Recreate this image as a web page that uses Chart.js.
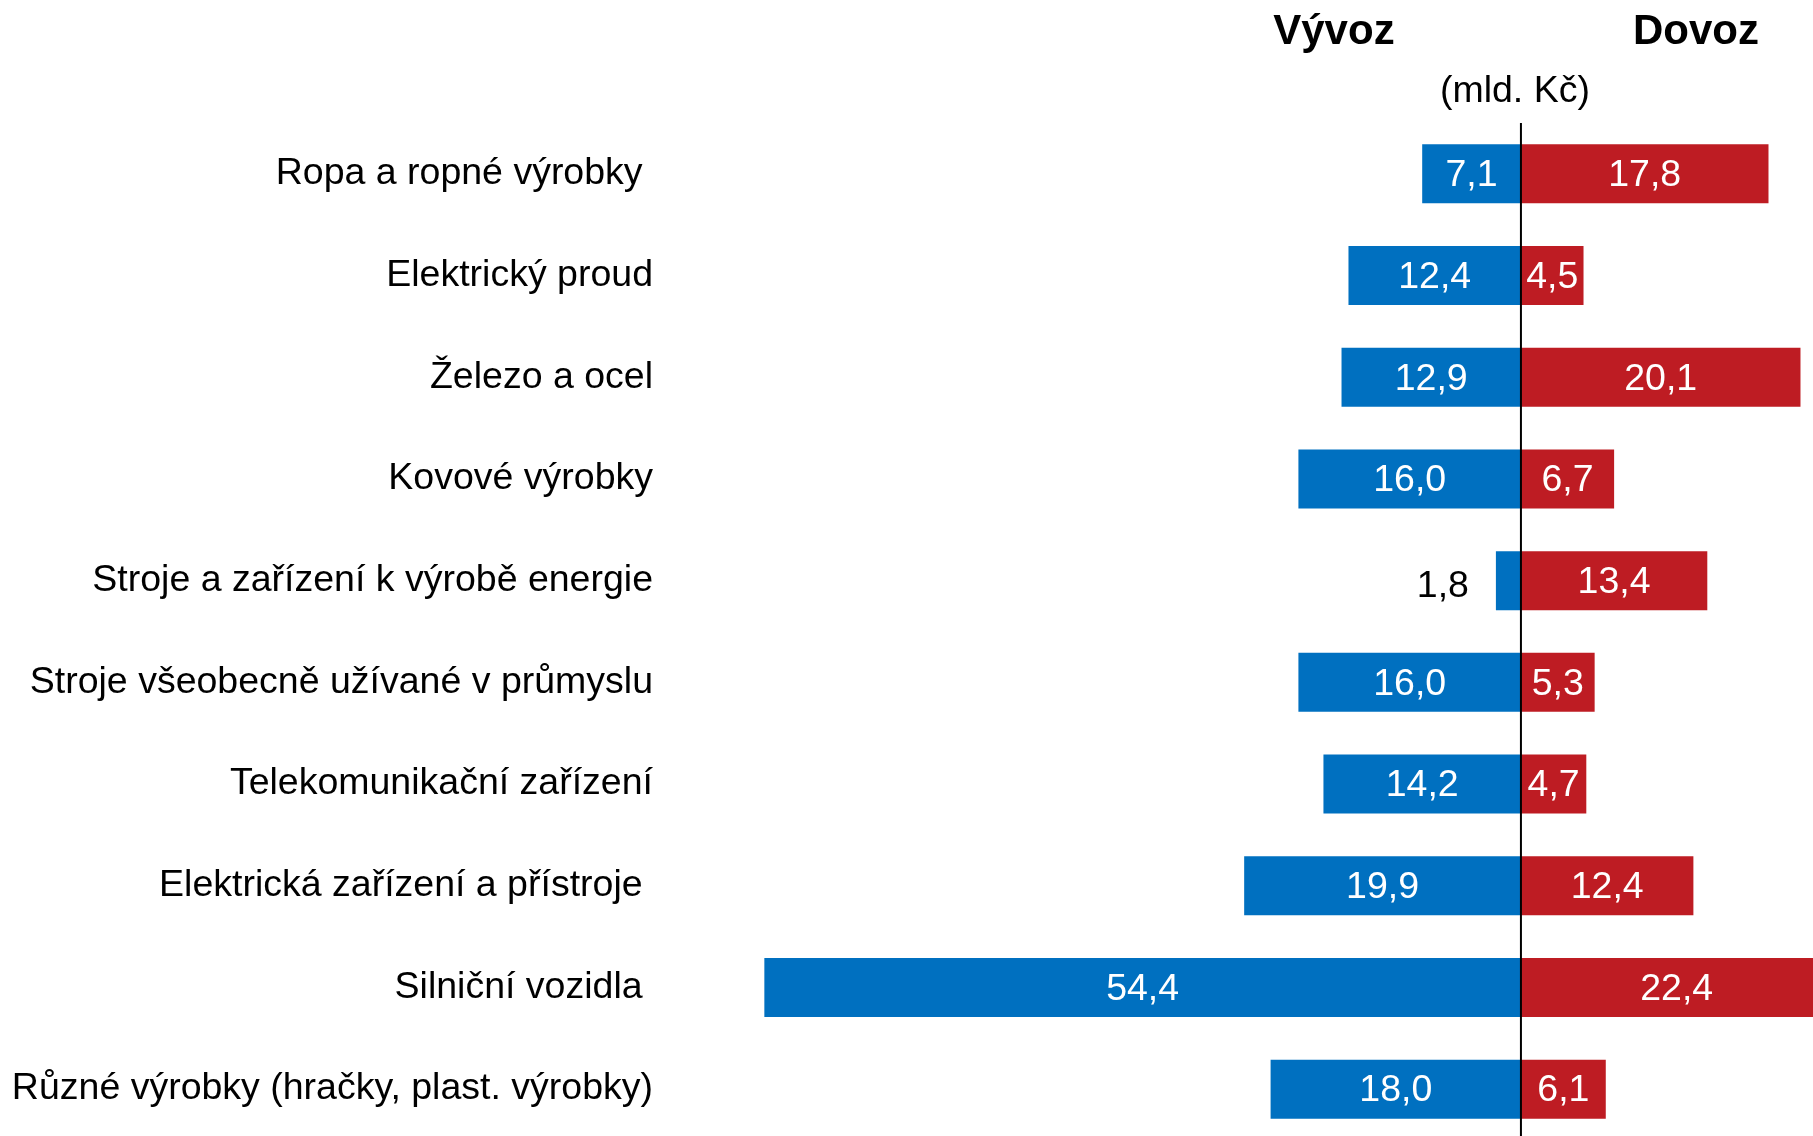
<!DOCTYPE html>
<html lang="cs">
<head>
<meta charset="utf-8">
<title>Vývoz a dovoz</title>
<script src="https://cdn.jsdelivr.net/npm/chart.js@4.4.1/dist/chart.umd.min.js"></script>
<style>
  body { margin: 0; overflow: hidden; background: #fff; }
  .obal { position: relative; width: 1813px; height: 1140px; }
</style>
</head>
<body>
<div class="obal"><canvas id="grafica"></canvas></div>
<script>
const categorias = [
  'Ropa a ropné výrobky ',
  'Elektrický proud',
  'Železo a ocel',
  'Kovové výrobky',
  'Stroje a zařízení k výrobě energie',
  'Stroje všeobecně užívané v průmyslu',
  'Telekomunikační zařízení',
  'Elektrická zařízení a přístroje ',
  'Silniční vozidla ',
  'Různé výrobky (hračky, plast. výrobky)',
];
const vyvoz = [7.1, 12.4, 12.9, 16.0, 1.8, 16.0, 14.2, 19.9, 54.4, 18.0];
const dovoz = [17.8, 4.5, 20.1, 6.7, 13.4, 5.3, 4.7, 12.4, 22.4, 6.1];
const ejeX = { min: -55, max: 21 };

const azul = '#0070c0';
const rojo = '#be1c23';
const fuente = '"Liberation Sans", Arial, sans-serif';

const formato = (v) => v.toFixed(1).replace('.', ',');

// etiquetas, línea del cero y títulos
const rotulos = {
  id: 'rotulos',
  afterDatasetsDraw(chart) {
    const { ctx, chartArea } = chart;
    const x0 = chart.scales.x.getPixelForValue(0);
    ctx.save();

    ctx.font = `37.5px ${fuente}`;
    ctx.textBaseline = 'middle';
    [vyvoz, dovoz].forEach((fuenteDatos, i) => {
      const meta = chart.getDatasetMeta(i);
      meta.data.forEach((bar, j) => {
        const { x, y, base } = bar.getProps(['x', 'y', 'base'], true);
        const valor = fuenteDatos[j];
        if (valor < 3) {
          ctx.fillStyle = '#000';
          ctx.textAlign = 'right';
          ctx.fillText(formato(valor), Math.min(x, base) - 27, y + 6);
        } else {
          ctx.fillStyle = '#fff';
          ctx.textAlign = 'center';
          ctx.fillText(formato(valor), (x + base) / 2, y + 2);
        }
      });
    });

    ctx.strokeStyle = '#000';
    ctx.lineWidth = 2;
    ctx.beginPath();
    ctx.moveTo(x0, chartArea.top);
    ctx.lineTo(x0, chart.height);
    ctx.stroke();

    ctx.fillStyle = '#000';
    ctx.textAlign = 'center';
    ctx.textBaseline = 'alphabetic';
    ctx.font = `bold 42px ${fuente}`;
    ctx.fillText('Vývoz', x0 - 187, 44);
    ctx.fillText('Dovoz', x0 + 175, 44);
    ctx.font = `37.5px ${fuente}`;
    ctx.fillText('(mld. Kč)', x0 - 6, 102);
    ctx.restore();
  },
};

// eslint-disable-next-line no-new, no-undef
new Chart(document.querySelector('#grafica'), {
  type: 'bar',
  data: {
    labels: categorias,
    datasets: [
      {
        label: 'Vývoz',
        data: vyvoz.map((v) => -v),
        backgroundColor: azul,
        barPercentage: 0.58,
        categoryPercentage: 1,
      },
      {
        label: 'Dovoz',
        data: dovoz,
        backgroundColor: rojo,
        barPercentage: 0.58,
        categoryPercentage: 1,
      },
    ],
  },
  options: {
    indexAxis: 'y',
    responsive: true,
    maintainAspectRatio: false,
    devicePixelRatio: 1,
    animation: false,
    layout: { padding: { top: 123, right: 0, bottom: 0, left: 0 } },
    plugins: {
      legend: { display: false },
      tooltip: { enabled: false },
    },
    scales: {
      x: {
        display: false,
        stacked: true,
        min: ejeX.min,
        max: ejeX.max,
      },
      y: {
        stacked: true,
        border: { display: false },
        grid: { display: false, drawTicks: false },
        ticks: {
          autoSkip: false,
          padding: 103,
          color: '#000',
          font: { family: fuente, size: 37.5 },
        },
        afterFit(scale) {
          scale.width = 756;
          scale.paddingTop = 0;
          scale.paddingBottom = 0;
        },
      },
    },
  },
  plugins: [rotulos],
});
</script>
</body>
</html>
